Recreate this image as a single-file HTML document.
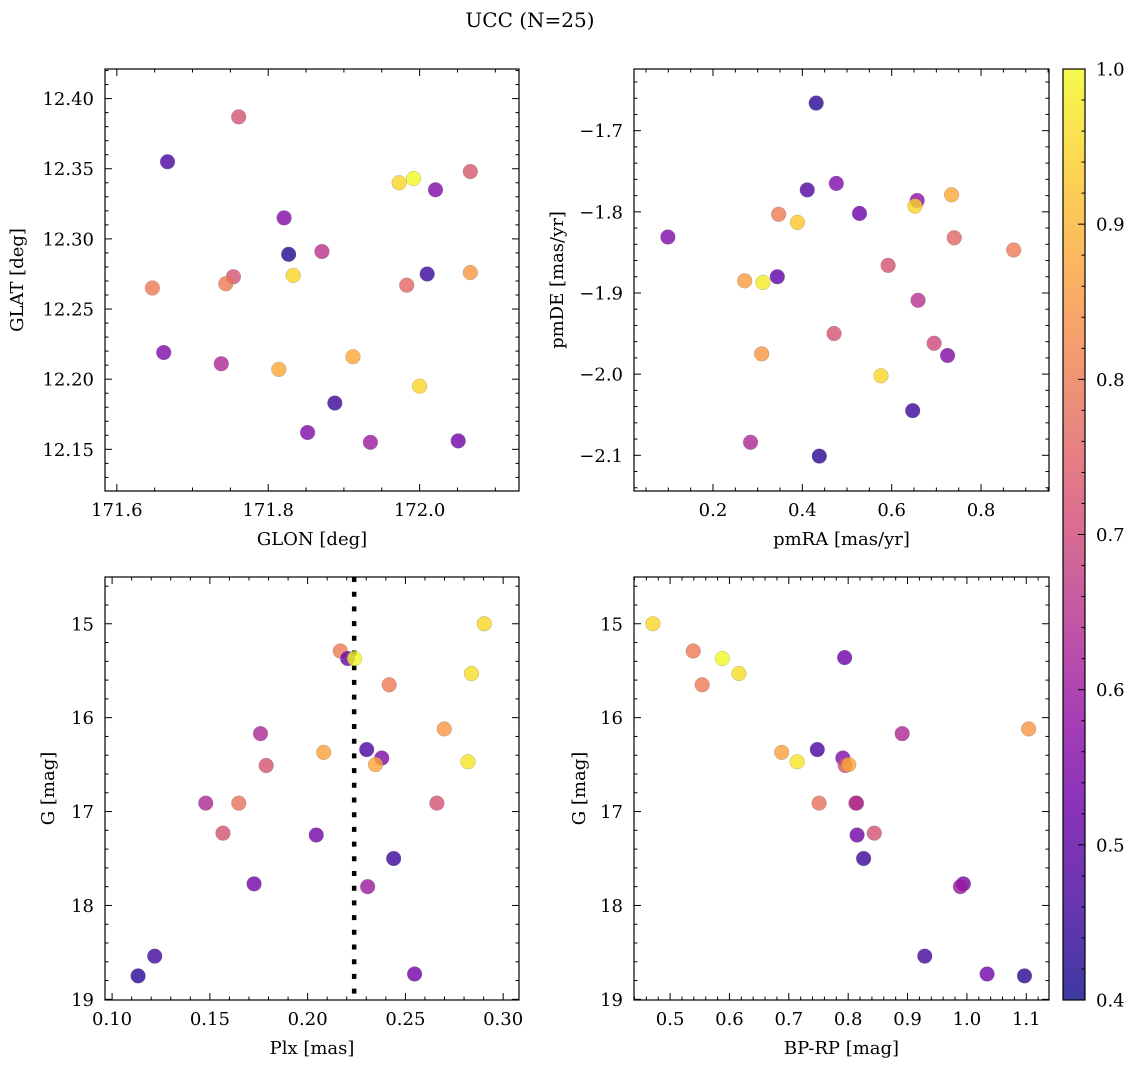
<!DOCTYPE html>
<html><head><meta charset="utf-8"><style>
html,body{margin:0;padding:0;background:#fff;}
svg{display:block;font-family:"DejaVu Serif","Liberation Serif",serif;}
</style></head><body>
<svg id="fig" width="1136" height="1068" viewBox="0 0 1136 1068" xmlns="http://www.w3.org/2000/svg">
<text x="530" y="27" font-size="20" text-anchor="middle">UCC (N=25)</text>
</svg>
<script>
// ---- data: top-left GLON/GLAT ----
const tlX = [171.761,171.667,171.973,171.992,172.021,172.067,171.821,171.827,171.871,171.754,171.833,171.647,171.744,171.983,172.010,172.067,171.662,171.738,171.814,171.912,172.000,171.888,171.852,171.935,172.051];
const tlY = [12.387,12.355,12.340,12.343,12.335,12.348,12.315,12.289,12.291,12.273,12.274,12.265,12.268,12.267,12.275,12.276,12.219,12.211,12.207,12.216,12.195,12.183,12.162,12.155,12.156];
const tlP = [0.72,0.47,0.95,1.0,0.55,0.73,0.55,0.42,0.65,0.72,0.95,0.80,0.80,0.76,0.45,0.85,0.55,0.63,0.88,0.88,0.95,0.45,0.55,0.60,0.53];
// ---- data: top-right pmRA/pmDE ----
const trX = [0.431,0.411,0.476,0.528,0.657,0.652,0.734,0.347,0.389,0.099,0.740,0.873,0.592,0.271,0.312,0.344,0.659,0.471,0.695,0.725,0.309,0.576,0.647,0.284,0.438];
const trY = [-1.666,-1.773,-1.765,-1.802,-1.786,-1.793,-1.779,-1.803,-1.813,-1.831,-1.832,-1.847,-1.866,-1.885,-1.887,-1.880,-1.909,-1.950,-1.962,-1.977,-1.975,-2.002,-2.045,-2.084,-2.101];
const trP = [0.43,0.48,0.55,0.52,0.58,0.95,0.88,0.80,0.93,0.55,0.76,0.80,0.72,0.86,0.98,0.50,0.65,0.72,0.70,0.55,0.85,0.95,0.45,0.63,0.43];
// ---- data: bottom-left Plx/G ----
const blX = [0.2903,0.2167,0.2205,0.2240,0.2838,0.2417,0.2699,0.1759,0.2082,0.2302,0.2379,0.2347,0.2820,0.1788,0.1479,0.1648,0.2661,0.1567,0.2044,0.2440,0.1726,0.2307,0.1218,0.1133,0.2547];
const blY = [15.00,15.29,15.37,15.37,15.53,15.65,16.12,16.17,16.37,16.34,16.43,16.50,16.47,16.51,16.91,16.91,16.91,17.23,17.25,17.50,17.77,17.80,18.54,18.75,18.73];
const blP = [0.95,0.80,0.52,1.0,0.96,0.80,0.85,0.63,0.87,0.47,0.55,0.88,0.97,0.72,0.63,0.78,0.72,0.72,0.53,0.45,0.53,0.60,0.46,0.43,0.53];
const plxLine = [0.2238];
// ---- data: bottom-right BP-RP/G ----
const brX = [0.471,0.539,0.588,0.616,0.554,0.794,1.104,0.891,0.688,0.748,0.714,0.791,0.795,0.801,0.751,0.813,0.814,0.815,0.844,0.826,0.994,0.989,0.929,1.034,1.097];
const brY = [15.00,15.29,15.37,15.53,15.65,15.36,16.12,16.17,16.37,16.34,16.47,16.43,16.51,16.50,16.91,16.91,16.91,17.25,17.23,17.50,17.77,17.80,18.54,18.73,18.75];
const brP = [0.95,0.80,1.0,0.96,0.80,0.52,0.85,0.63,0.87,0.47,0.97,0.55,0.72,0.88,0.78,0.72,0.63,0.53,0.72,0.45,0.53,0.60,0.46,0.53,0.43];
// ---- tick labels ----
const tlXTicks = [171.6,171.8,172.0];
const tlYTicks = [12.15,12.20,12.25,12.30,12.35,12.40];
const trXTicks = [0.2,0.4,0.6,0.8];
const trYTicks = [-1.7,-1.8,-1.9,-2.0,-2.1];
const blXTicks = [0.10,0.15,0.20,0.25,0.30];
const gTicks = [15,16,17,18,19];
const brXTicks = [0.5,0.6,0.7,0.8,0.9,1.0,1.1];
const cbTicks = [0.4,0.5,0.6,0.7,0.8,0.9,1.0];

const NS = "http://www.w3.org/2000/svg";
const svg = document.getElementById('fig');
const FS = 18;
const stops = ["#0d0887","#41049d","#6a00a8","#8f0da4","#b12a90","#cc4778","#e16462","#f2844b","#fca636","#fcce25","#f0f921"];
function hex(h){return [1,3,5].map(i=>parseInt(h.substr(i,2),16));}
function plasma(t){t=Math.max(0,Math.min(1,t));const s=t*10,i=Math.min(9,Math.floor(s)),f=s-i;const a=hex(stops[i]),b=hex(stops[i+1]);return "rgb("+a.map((v,k)=>Math.round(v+(b[k]-v)*f)).join(",")+")";}
function pcol(p){return plasma((p-0.4)/0.6);}
function mk(tag,attrs,parent){const e=document.createElementNS(NS,tag);for(const k in attrs)e.setAttribute(k,attrs[k]);(parent||svg).appendChild(e);return e;}
function fmt(v,d){const s=v.toFixed(d);return s.replace('-','\u2212');}

function panel(o){
  const g=mk('g',{});
  
  
  const sx=v=>o.x0+(v-o.xmin)/(o.xmax-o.xmin)*(o.x1-o.x0);
  const sy=v=>o.inv? o.y0+(v-o.ymin)/(o.ymax-o.ymin)*(o.y1-o.y0) : o.y1-(v-o.ymin)/(o.ymax-o.ymin)*(o.y1-o.y0);
  const tk=(x1,y1,x2,y2)=>mk('line',{x1,y1,x2,y2,stroke:'#000','stroke-width':1},g);
  for(let v=Math.ceil(o.xmin/o.xminor-1e-6)*o.xminor; v<=o.xmax+1e-9; v+=o.xminor){const x=sx(v);const maj=Math.abs(v/o.xmajor-Math.round(v/o.xmajor))<1e-4;const L=maj?7:3.5;tk(x,o.y1,x,o.y1-L);tk(x,o.y0,x,o.y0+L);}
  for(let v=Math.ceil(o.ymin/o.yminor-1e-6)*o.yminor; v<=o.ymax+1e-9; v+=o.yminor){const y=sy(v);const maj=Math.abs(v/o.ymajor-Math.round(v/o.ymajor))<1e-4;const L=maj?7:3.5;tk(o.x0,y,o.x0+L,y);tk(o.x1,y,o.x1-L,y);}
  o.xticks.forEach(v=>{const t=mk('text',{x:sx(v),y:o.y1+25,'font-size':FS,'text-anchor':'middle'},g);t.textContent=fmt(v,o.xd);});
  o.yticks.forEach(v=>{const t=mk('text',{x:o.x0-11,y:sy(v)+6.5,'font-size':FS,'text-anchor':'end'},g);t.textContent=fmt(v,o.yd);});
  const xl=mk('text',{x:(o.x0+o.x1)/2,y:o.y1+54,'font-size':FS,'text-anchor':'middle'},g);xl.textContent=o.xlabel;
  
  
  const yl=mk('text',{x:0,y:0,'font-size':FS,'text-anchor':'middle',transform:`translate(${o.ylx},${(o.y0+o.y1)/2}) rotate(-90)`},g);yl.textContent=o.ylabel;
  
  
  if(o.vline){o.vline.forEach(v=>{const l=mk('line',{x1:sx(v),y1:o.y0,x2:sx(v),y2:o.y1,stroke:'#000','stroke-width':4.5,'stroke-dasharray':'5 9.7'},g);});}
  o.xs.forEach((v,i)=>{const c=mk('circle',{cx:sx(v),cy:sy(o.ys[i]),r:7.4,fill:pcol(o.ps[i]),'fill-opacity':0.8,stroke:'#777','stroke-opacity':0.5,'stroke-width':0.5},g);
    
    });
  const f=mk('rect',{x:o.x0,y:o.y0,width:o.x1-o.x0,height:o.y1-o.y0,fill:'none',stroke:'#000','stroke-width':1.2},g);
  
  
}
panel({name:'glon-glat-panel',x0:105,x1:519,y0:69,y1:491,xmin:171.5844,xmax:172.1313,ymin:12.1203,ymax:12.4211,xmajor:0.2,xminor:0.05,ymajor:0.05,yminor:0.01,xticks:tlXTicks,yticks:tlYTicks,xd:1,yd:2,xlabel:'GLON [deg]',ylabel:'GLAT [deg]',ylx:23,xs:tlX,ys:tlY,ps:tlP});
panel({name:'pm-panel',x0:634,x1:1049,y0:69,y1:491,xmin:0.0232,xmax:0.9521,ymin:-2.144,ymax:-1.624,xmajor:0.2,xminor:0.05,ymajor:0.1,yminor:0.02,xticks:trXTicks,yticks:trYTicks,xd:1,yd:1,xlabel:'pmRA [mas/yr]',ylabel:'pmDE [mas/yr]',ylx:563,xs:trX,ys:trY,ps:trP});
panel({name:'plx-g-panel',x0:105,x1:519,y0:577,y1:1000,inv:true,xmin:0.09637,xmax:0.3081,ymin:14.502,ymax:19.007,xmajor:0.05,xminor:0.01,ymajor:1,yminor:0.2,xticks:blXTicks,yticks:gTicks,xd:2,yd:0,xlabel:'Plx [mas]',ylabel:'G [mag]',ylx:54,xs:blX,ys:blY,ps:blP,vline:plxLine});
panel({name:'cmd-panel',x0:634,x1:1049,y0:577,y1:1000,inv:true,xmin:0.4392,xmax:1.1383,ymin:14.502,ymax:19.007,xmajor:0.1,xminor:0.02,ymajor:1,yminor:0.2,xticks:brXTicks,yticks:gTicks,xd:1,yd:0,xlabel:'BP-RP [mag]',ylabel:'G [mag]',ylx:585,xs:brX,ys:brY,ps:brP});

// colorbar
const cb=mk('g',{});


const defs=mk('defs',{},cb);
const lg=mk('linearGradient',{id:'pl',x1:0,y1:1,x2:0,y2:0},defs);
stops.forEach((s,i)=>mk('stop',{offset:(i/10),'stop-color':s,'stop-opacity':0.8},lg));
const cbx0=1063,cbx1=1085,cby0=69,cby1=1000;
mk('rect',{x:cbx0,y:cby0,width:cbx1-cbx0,height:cby1-cby0,fill:'url(#pl)',stroke:'#000','stroke-width':1.2},cb);
const cy=v=>cby1-(v-0.4)/0.6*(cby1-cby0);
for(let k=0;k<=30;k++){const v=0.4+k*0.02;const maj=k%5===0;mk('line',{x1:cbx1,y1:cy(v),x2:cbx1-(maj?7:3.5),y2:cy(v),stroke:'#000','stroke-width':1},cb);}
cbTicks.forEach(v=>{const t=mk('text',{x:1096,y:cy(v)+6.5,'font-size':FS},cb);t.textContent=v.toFixed(1);});
</script>
</body></html>
